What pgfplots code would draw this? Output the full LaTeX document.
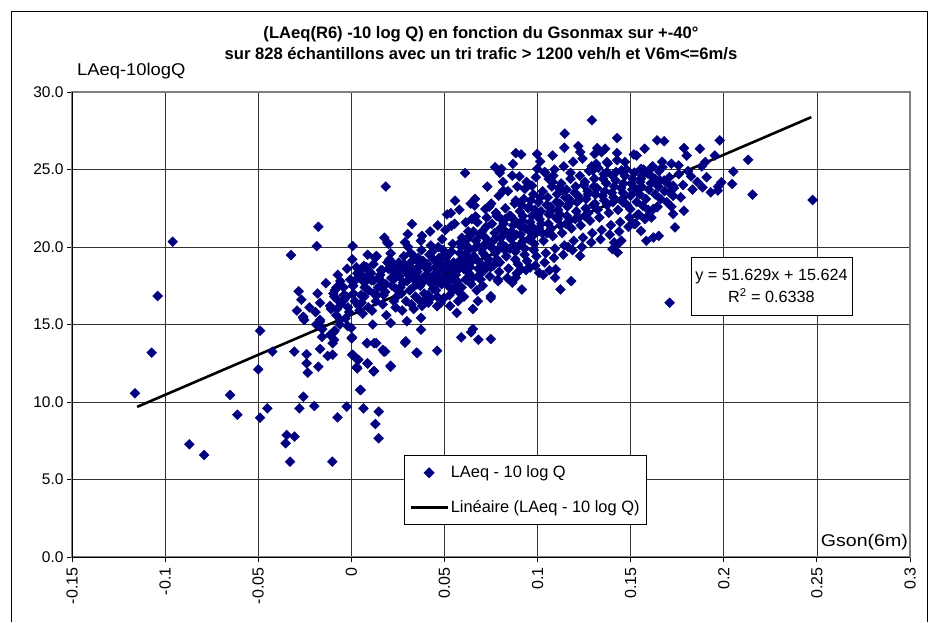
\documentclass[border=0pt]{standalone}
\usepackage{pgfplots}
\pgfplotsset{compat=1.18}
\usepackage{fontspec}
\setmainfont{Liberation Sans}
\definecolor{navy}{RGB}{0,0,128}
\definecolor{pgray}{RGB}{128,128,128}
\pgfplotsset{
  markleg/.style={legend image code/.code={\draw[mark repeat=2,mark phase=2,##1] plot coordinates {(0pt,0pt)(18.5pt,0pt)(37pt,0pt)};}},
  lineleg/.style={legend image code/.code={\draw[##1] (0pt,0pt) -- (37pt,0pt);}},
}
\begin{document}
\begin{tikzpicture}[x=1pt,y=1pt]
\path[use as bounding box] (0,0) rectangle (938,622);
\draw[black, line width=0.8pt] (11.5,0) -- (11.5,611) -- (927.5,611) -- (927.5,0);
\node[anchor=base, inner sep=0pt, font=\bfseries\fontsize{16.6}{18}\selectfont] at (481,583) {(LAeq(R6) -10 log Q) en fonction du Gsonmax sur +-40°};
\node[anchor=base, inner sep=0pt, font=\bfseries\fontsize{16.6}{18}\selectfont] at (481,562) {sur 828 échantillons avec un tri trafic > 1200 veh/h et V6m<=6m/s};
\node[anchor=base west, inner sep=0pt, font=\fontsize{17}{19}\selectfont] at (77,546) {\scalebox{1.08}[1]{LAeq-10logQ}};
\begin{axis}[
  at={(72pt,65pt)}, anchor=south west,
  width=838pt, height=465pt, scale only axis,
  xmin=-0.15, xmax=0.3, ymin=0, ymax=30,
  axis line style={pgray, line width=1.3pt},
  grid=major, major grid style={black!80, line width=0.7pt},
  tick align=outside, major tick length=5pt,
  tick style={black, line width=0.8pt},
  xtick pos=bottom, ytick pos=left,
  xtick={-0.15,-0.1,-0.05,0,0.05,0.1,0.15,0.2,0.25,0.3},
  xticklabels={-0.15,-0.1,-0.05,0,0.05,0.1,0.15,0.2,0.25,0.3},
  ytick={0,5,10,15,20,25,30},
  yticklabels={0.0,5.0,10.0,15.0,20.0,25.0,30.0},
  xticklabel style={rotate=90, anchor=east, font=\fontsize{16}{16}\selectfont, xshift=-2pt},
  yticklabel style={font=\fontsize{15.5}{15.5}\selectfont},
  legend style={at={(0.396,0.219)}, anchor=north west, draw=black, line width=0.8pt,
    font=\fontsize{16.4}{18}\selectfont, inner xsep=5pt, inner ysep=8.5pt, row sep=17pt},
  legend cell align=left,
]
\addplot[only marks, mark=square*, mark size=3.5pt, mark options={navy, fill=navy, rotate=45}, markleg]
coordinates {
(0.0185,23.9)(-0.0177,21.3)(-0.0959,20.34)(-0.0186,20.06)(0.0007,20.06)(-0.0324,19.48)
(-0.104,16.84)(-0.0283,17.14)(0.020,20.2)(0.0136,19.4)(-0.026,15.44)(-0.0253,15.3)
(-0.0168,15.3)(-0.0137,17.66)(-0.0097,17.0)(-0.0115,16.2)(-0.0075,16.6)(-0.0025,16.8)
(0.001,17.5)(0.0047,18.3)(0.0065,18.7)(0.0083,17.85)(0.012,17.85)(0.0165,18.5)
(0.0226,18.9)(0.024,18.3)(-0.049,14.6)(-0.1072,13.18)(-0.1162,10.56)(-0.05,12.11)
(-0.0424,13.25)(-0.0306,13.25)(-0.024,13.08)(-0.024,12.5)(-0.0234,11.9)(-0.0177,12.28)
(-0.0168,13.42)(-0.0127,12.97)(-0.0157,14.2)(-0.010,13.79)(-0.0115,14.33)(-0.0258,15.5)
(-0.0168,15.18)(0.0002,14.1)(0.001,13.03)(0.0035,12.7)(0.0032,12.17)(0.0088,12.48)
(0.0122,12.0)(0.0083,13.79)(0.0122,13.79)(0.0175,13.25)(0.0211,12.28)(0.0288,13.83)
(0.035,13.18)(0.005,10.77)(-0.0651,10.45)(-0.0612,9.18)(-0.0451,9.59)(-0.049,8.99)
(-0.0258,10.34)(-0.0279,9.59)(-0.0199,9.74)(-0.0025,9.7)(0.0065,9.59)(-0.0074,9.01)
(0.0147,9.38)(0.0129,8.58)(0.0147,7.66)(-0.087,7.27)(-0.079,6.58)(-0.0347,7.87)
(-0.0305,7.77)(-0.0353,7.34)(-0.0329,6.15)(-0.0102,6.15)
(0.1292,28.18)(0.1146,27.31)(0.1144,26.4)(0.1427,27.03)(0.1219,26.51)(0.1229,26.12)
(0.1321,26.38)(0.1363,26.34)(0.1344,26.12)(0.1306,26.0)(0.1427,26.06)(0.0883,26.06)
(0.0912,25.97)(0.0998,26.0)(0.1081,25.9)(0.1014,25.52)(0.0998,25.04)(0.0772,25.15)
(0.0806,25.04)(0.0868,25.37)(0.0797,24.78)(0.0902,24.55)(0.0611,24.78)(0.1037,24.83)
(0.106,24.4)(0.1085,24.6)(0.1177,24.78)(0.1133,23.64)(0.1315,25.37)(0.1296,24.94)
(0.1373,25.48)(0.1373,24.83)(0.1421,24.83)(0.145,24.94)(0.1469,25.48)(0.1517,25.97)
(0.1532,25.9)(0.1575,26.34)(0.1642,26.88)(0.168,26.82)(0.1786,26.38)(0.1801,25.9)
(0.1872,26.34)(0.1978,26.88)(0.1901,25.48)(0.2131,25.63)(0.2051,24.87)(0.1824,24.55)
(0.1886,23.85)(0.193,23.53)(0.1968,23.64)(0.1987,24.18)(0.2045,24.07)(0.2154,23.38)
(0.1719,25.37)(0.1757,25.26)(0.1671,25.15)(0.1613,25.15)(0.1555,25.04)(0.1594,24.72)
(0.1632,24.4)(0.1555,24.4)(0.168,24.29)(0.1728,23.96)(0.1709,23.53)(0.1728,23.31)
(0.1661,23.1)(0.1642,22.56)(0.1622,22.45)(0.1728,22.13)(0.1786,22.34)(0.1738,21.26)
(0.1651,20.72)(0.1622,20.61)(0.1584,20.4)(0.1594,22.02)(0.1536,22.06)(0.1536,23.53)
(0.1526,23.75)(0.1565,22.66)(0.1459,22.88)(0.1498,22.45)(0.1517,21.48)(0.1555,21.04)
(0.145,20.4)(0.1421,20.07)(0.1411,20.29)(0.143,19.64)(0.1402,19.86)(0.1229,19.42)
(0.1181,17.8)(0.1123,17.26)(0.1094,18.02)(0.1098,18.56)(0.1008,18.34)(0.0916,17.26)
(0.0912,18.56)(0.096,18.67)(0.0883,18.02)(0.0864,17.7)(0.0787,17.91)(0.0749,16.83)
(0.0749,14.06)(0.0682,14.02)(0.0653,14.71)(0.0643,14.5)(0.059,14.17)(0.0461,13.31)
(0.0355,13.16)(0.0292,13.91)(0.0374,14.67)(0.0211,12.34)(0.0119,11.97)(0.0086,12.5)
(0.0038,12.72)(0.0029,12.25)(0.0048,10.78)(0.0169,13.37)(0.0182,13.26)(0.0134,13.8)
(0.0086,13.8)(0.0004,14.17)(0.0004,13.05)(0.0,14.78)(-0.0092,14.02)(-0.01,13.05)
(0.2477,23.03)(0.1709,16.4)
(0.0557,22.99)(0.0662,22.67)(0.072,22.45)(0.0614,21.59)(0.0668,21.97)(0.0534,22.19)
(0.0538,21.37)(0.0326,21.48)(0.0303,20.83)(0.038,20.72)(0.0192,20.29)(0.0134,19.42)
(0.0067,18.78)(0.0816,23.64)(0.0883,22.99)(0.0826,21.8)(0.0931,23.75)(0.097,23.96)
(0.0566,15.75)(0.0653,16.0)(0.0749,16.7)(0.0461,16.18)(0.0374,15.43)(0.0298,15.21)
(0.0211,15.1)(0.0115,15.0)
(-0.011,16.0)(-0.008,17.4)(-0.004,16.9)(-0.006,15.3)(-0.002,14.9)(-0.009,14.6)
(-0.0292,15.9)(-0.0268,16.6)(-0.0225,16.1)
(-0.0192,15.8)(-0.0168,16.4)(-0.0181,17.0)(-0.0156,14.7)(-0.0189,15.0)
(-0.0092,16.8)(-0.0068,17.5)(-0.0081,15.6)(-0.0056,16.3)(-0.0089,17.2)(-0.0073,18.2)(-0.0062,15.0)(-0.0095,14.5)(-0.0077,16.0)(-0.0059,17.8)
(-0.0042,17.4)(-0.0018,16.1)(-0.0031,15.4)(-0.0006,17.9)(-0.0039,16.6)(-0.0023,18.6)(-0.0012,15.8)
(0.0008,17.5)(0.0032,18.3)(0.0019,16.5)(0.0044,15.9)(0.0011,17.0)(0.0027,18.7)(0.0038,16.2)(0.0005,19.2)
(0.0058,17.85)(0.0082,18.7)(0.0069,16.8)(0.0094,17.2)(0.0061,15.7)(0.0077,18.0)(0.0088,19.5)(0.0055,16.4)
(0.0108,17.85)(0.0132,16.5)(0.0119,18.9)(0.0144,17.4)(0.0111,15.9)(0.0127,19.3)(0.0138,16.9)(0.0105,18.3)
(0.0158,18.5)(0.0182,17.1)(0.0169,16.3)(0.0194,19.0)(0.0161,17.8)(0.0177,20.6)(0.0188,15.6)(0.0155,18.2)(0.0173,16.9)
(0.0208,18.9)(0.0232,18.3)(0.0219,17.5)(0.0244,16.8)(0.0211,19.6)(0.0227,17.9)(0.0238,16.1)(0.0205,19.2)(0.0223,18.6)(0.0241,17.3)
(0.0258,18.1)(0.0282,19.4)(0.0269,17.0)(0.0294,16.5)(0.0261,18.7)(0.0277,17.7)(0.0288,20.3)(0.0255,19.0)(0.0273,15.9)(0.0291,18.4)
(0.0308,18.8)(0.0332,17.4)(0.0319,19.6)(0.0344,16.8)(0.0311,18.2)(0.0327,19.1)(0.0338,17.9)(0.0305,20.0)(0.0323,16.3)(0.0341,18.5)(0.0314,17.2)
(0.0358,19.3)(0.0382,18.0)(0.0369,17.5)(0.0394,18.7)(0.0361,16.6)(0.0377,19.8)(0.0388,17.8)(0.0355,18.4)(0.0373,20.4)(0.0391,17.0)(0.0364,19.0)(0.0380,16.2)
(0.0408,18.9)(0.0432,17.6)(0.0419,19.5)(0.0444,18.2)(0.0411,16.9)(0.0427,20.1)(0.0438,17.3)(0.0405,18.6)(0.0423,21.0)(0.0441,19.2)(0.0414,16.4)(0.0430,17.9)
(0.0458,19.1)(0.0482,18.4)(0.0469,17.7)(0.0494,19.8)(0.0461,16.8)(0.0477,18.9)(0.0488,20.5)(0.0455,17.2)(0.0473,18.0)(0.0491,19.4)(0.0464,21.4)(0.0480,16.4)(0.0467,20.0)
(0.0508,19.3)(0.0532,18.1)(0.0519,17.5)(0.0544,20.2)(0.0511,18.8)(0.0527,16.9)(0.0538,19.7)(0.0505,21.1)(0.0523,17.9)(0.0541,18.5)(0.0514,22.1)(0.0530,16.2)(0.0517,19.0)
(0.0558,18.7)(0.0582,19.6)(0.0569,17.8)(0.0594,20.6)(0.0561,18.2)(0.0577,17.1)(0.0588,19.2)(0.0555,21.5)(0.0573,16.5)(0.0591,20.0)(0.0564,18.9)(0.0580,22.4)(0.0567,17.5)
(0.0608,19.0)(0.0632,18.3)(0.0619,20.1)(0.0644,17.6)(0.0611,19.5)(0.0627,21.0)(0.0638,18.7)(0.0605,16.8)(0.0623,20.5)(0.0641,22.8)(0.0614,17.9)(0.0630,19.8)
(0.0658,19.4)(0.0682,18.6)(0.0669,20.4)(0.0694,17.9)(0.0661,19.9)(0.0677,21.6)(0.0688,18.2)(0.0655,21.0)(0.0673,17.2)(0.0691,20.8)(0.0664,23.1)(0.0680,16.5)
(0.0708,19.6)(0.0732,18.9)(0.0719,20.6)(0.0744,18.1)(0.0711,20.1)(0.0727,21.9)(0.0738,19.2)(0.0705,17.5)(0.0723,21.3)(0.0741,22.6)(0.0714,18.5)(0.0730,23.9)
(0.0758,19.9)(0.0782,19.2)(0.0769,20.9)(0.0794,18.4)(0.0761,20.4)(0.0777,22.2)(0.0788,17.8)(0.0755,21.5)(0.0773,19.6)(0.0791,23.3)(0.0764,18.8)(0.0780,22.0)
(0.0808,20.2)(0.0832,19.4)(0.0819,21.1)(0.0844,18.6)(0.0811,20.7)(0.0827,22.5)(0.0838,18.0)(0.0805,21.8)(0.0823,19.8)(0.0841,23.6)(0.0814,24.2)(0.0830,20.0)
(0.0858,20.5)(0.0882,19.7)(0.0869,21.4)(0.0894,18.9)(0.0861,21.0)(0.0877,22.8)(0.0888,18.3)(0.0855,22.0)(0.0873,20.1)(0.0891,23.9)(0.0864,24.6)(0.0880,19.2)
(0.0908,20.8)(0.0932,19.9)(0.0919,21.7)(0.0944,19.1)(0.0911,21.3)(0.0927,23.1)(0.0938,18.5)(0.0905,22.3)(0.0923,20.4)(0.0941,24.2)(0.0914,22.7)(0.0930,19.5)
(0.0958,21.0)(0.0982,20.2)(0.0969,22.0)(0.0994,19.4)(0.0961,21.6)(0.0977,23.4)(0.0988,18.8)(0.0955,22.6)(0.0973,20.7)(0.0991,24.5)(0.0964,23.0)(0.0980,19.8)
(0.1008,21.2)(0.1032,20.4)(0.1019,22.3)(0.1044,19.6)(0.1011,21.8)(0.1027,23.6)(0.1038,19.0)(0.1005,22.9)(0.1023,20.9)(0.1041,24.8)(0.1014,23.2)(0.1030,18.2)
(0.1058,21.5)(0.1082,20.7)(0.1069,22.6)(0.1094,19.9)(0.1061,22.1)(0.1077,23.9)(0.1088,19.3)(0.1055,23.2)(0.1073,21.2)(0.1091,25.0)(0.1064,18.5)(0.1080,24.2)
(0.1108,21.8)(0.1132,20.9)(0.1119,22.8)(0.1144,20.1)(0.1111,22.4)(0.1127,24.1)(0.1138,19.5)(0.1105,23.4)(0.1123,21.4)(0.1141,25.2)(0.1114,23.8)
(0.1158,22.0)(0.1182,21.2)(0.1169,23.1)(0.1194,20.4)(0.1161,22.6)(0.1177,24.4)(0.1188,19.8)(0.1155,23.7)(0.1173,21.7)(0.1191,25.5)(0.1164,20.0)
(0.1208,22.3)(0.1232,21.4)(0.1219,23.3)(0.1244,20.6)(0.1211,22.9)(0.1227,24.6)(0.1238,20.0)(0.1205,23.9)(0.1223,21.9)(0.1241,25.7)
(0.1258,22.5)(0.1282,21.7)(0.1269,23.6)(0.1294,20.9)(0.1261,23.1)(0.1277,24.9)(0.1288,20.3)(0.1255,24.2)(0.1273,22.2)(0.1291,25.2)
(0.1308,22.8)(0.1332,21.9)(0.1319,23.8)(0.1344,21.1)(0.1311,23.4)(0.1327,25.1)(0.1338,20.5)(0.1305,24.4)(0.1323,22.4)
(0.1358,23.0)(0.1382,22.2)(0.1369,24.1)(0.1394,21.4)(0.1361,23.6)(0.1377,25.4)(0.1388,20.8)(0.1355,24.7)(0.1373,22.7)
(0.1408,23.2)(0.1432,22.4)(0.1419,24.3)(0.1444,21.6)(0.1411,23.9)(0.1427,25.6)(0.1438,21.0)(0.1405,22.9)
(0.1458,23.5)(0.1482,22.7)(0.1469,24.6)(0.1494,21.9)(0.1461,24.1)(0.1477,25.0)(0.1488,21.3)(0.1455,23.1)
(0.1508,23.7)(0.1532,22.9)(0.1519,24.8)(0.1544,22.1)(0.1511,24.4)(0.1527,21.5)
(0.1558,23.9)(0.1582,23.1)(0.1569,25.0)(0.1594,22.4)(0.1561,24.6)(0.1577,21.8)
(0.1608,24.1)(0.1632,23.4)(0.1619,25.2)(0.1644,22.6)(0.1611,21.9)
(0.1658,24.3)(0.1682,23.6)(0.1669,25.5)(0.1694,22.9)
(0.1708,24.5)(0.1732,23.8)(0.1719,22.6)
(0.1758,24.7)(0.1782,24.0)(0.1769,23.2)
(0.1808,24.9)(0.1832,23.7)
(0.1858,24.2)(0.1882,25.2)
(0.1908,24.5)(0.1952,25.9)(0.1969,23.9)
(0.0025,17.9)(0.0072,17.4)(0.0098,18.4)(0.0148,18.0)(0.0163,17.4)(0.0199,18.6)(0.0185,17.6)(0.0121,17.0)(0.0052,16.9)(0.0091,16.1)
(0.0215,18.0)(0.0248,18.6)(0.0264,17.4)(0.0284,18.9)(0.0299,17.8)(0.0316,18.5)(0.0336,19.4)(0.0349,18.1)(0.0352,17.6)(0.0367,18.8)
(0.0385,19.1)(0.0398,17.9)(0.0229,16.5)(0.0335,16.0)(0.0396,16.6)
(0.0402,18.2)(0.0417,18.6)(0.0435,19.7)(0.0448,17.9)(0.0452,18.7)(0.0471,19.3)(0.0485,17.6)(0.0499,18.5)(0.0503,18.0)(0.0521,19.5)
(0.0535,18.8)(0.0549,19.0)(0.0552,17.8)(0.0571,18.5)(0.0585,20.3)(0.0598,18.8)(0.0426,16.7)(0.0496,16.7)(0.0546,17.2)(0.0592,17.4)
(0.0603,18.6)(0.0618,19.3)(0.0636,20.7)(0.0649,19.1)(0.0652,18.0)(0.0671,19.2)(0.0686,20.0)(0.0699,18.9)(0.0703,19.9)(0.0721,19.4)
(0.0735,20.3)(0.0749,18.7)(0.0752,20.0)(0.0771,20.5)(0.0785,19.8)(0.0799,21.2)(0.0647,21.8)(0.0702,21.0)(0.0751,22.8)(0.0798,19.0)
(0.0803,20.6)(0.0818,21.5)(0.0836,20.9)(0.0849,22.0)(0.0852,19.9)(0.0871,21.8)(0.0885,20.8)(0.0899,21.5)(0.0903,20.1)(0.0921,22.0)
(0.0935,21.2)(0.0949,22.5)(0.0952,20.5)(0.0971,21.3)(0.0985,22.4)(0.0999,21.0)
(0.1003,22.0)(0.1021,21.5)(0.1049,22.7)(0.1052,20.9)(0.1071,22.3)(0.1099,21.9)(0.1102,22.9)(0.1121,22.1)(0.1149,23.2)(0.1152,21.5)
(0.1171,22.8)(0.1199,23.5)(0.1202,21.8)(0.1221,23.0)(0.1249,24.0)(0.1252,22.0)(0.1271,23.4)(0.1299,22.7)
(0.1302,23.9)(0.1349,23.3)(0.1352,24.4)(0.1399,23.5)(0.1402,24.6)(0.1449,23.8)(0.1452,24.9)(0.1499,23.3)(0.1502,24.1)(0.1549,23.4)
(0.1552,24.2)(0.1599,23.7)(0.1602,24.7)(0.1649,23.9)(0.1652,24.9)(0.1699,24.1)
};
\addlegendentry{LAeq - 10 log Q}
\addplot[black, line width=2.6pt, lineleg]
coordinates {(-0.115,9.687) (0.247,28.377)};
\addlegendentry{Linéaire (LAeq - 10 log Q)}
\draw[black, line width=0.8pt] (rel axis cs:0,1) -- (rel axis cs:0,0) -- (rel axis cs:1,0);
\node[draw=black, line width=0.8pt, fill=white, minimum width=161pt, minimum height=58pt,
  align=center, font=\fontsize{16.2}{22}\selectfont] at (axis description cs:0.8347,0.5828)
  {y = 51.629x + 15.624\\R\textsuperscript{2} = 0.6338};
\end{axis}
\node[anchor=base east, inner sep=0pt, font=\fontsize{17}{19}\selectfont] at (908,76) {\scalebox{1.15}[1]{Gson(6m)}};
\end{tikzpicture}
\end{document}
